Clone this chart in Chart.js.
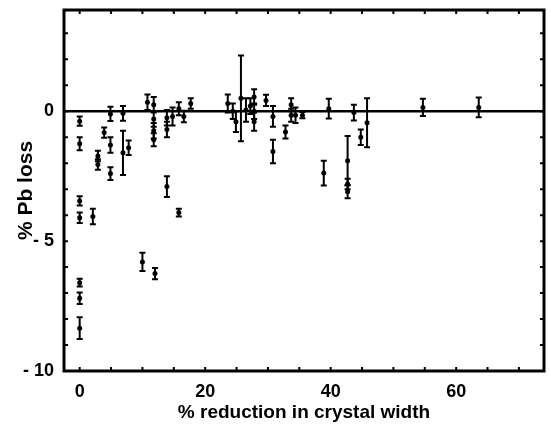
<!DOCTYPE html>
<html>
<head>
<meta charset="utf-8">
<script src="https://cdn.jsdelivr.net/npm/chart.js@4/dist/chart.umd.min.js"></script>
<style>
  html, body { margin: 0; padding: 0; background: #fff; }
  #wrap { width: 551px; height: 426px; }
</style>
</head>
<body>
<div id="wrap"><canvas id="c" width="551" height="426"></canvas></div>
<script>
// % reduction in crystal width
const xValues = [0, 0, 0, 0, 0, 0, 0, 2.1, 2.9, 2.9, 3.9, 4.9, 4.9, 4.9, 6.9, 6.9, 7.8,
    10.0, 10.8, 11.8, 11.8, 11.8, 11.8, 12.0, 13.9, 13.9, 13.9, 14.8, 15.8, 15.8, 16.6, 17.7,
    23.6, 24.4, 24.9, 25.7, 26.5, 27.2, 27.8, 27.8, 27.8, 29.7, 30.8, 30.8, 32.8, 33.7, 33.7,
    34.4, 35.5, 38.9, 39.7, 42.7, 42.7, 42.7, 43.7, 44.8, 45.8, 54.7, 63.6]
// % Pb loss
const yValues = [-0.38, -1.25, -3.45, -4.1, -6.6, -7.2, -8.35, -4.05, -1.72, -2.05, -0.82, -0.1, -1.3, -2.4, -0.08, -1.6, -1.4,
    -5.8, 0.35, 0.25, -0.3, -0.75, -1.1, -6.25, -0.25, -0.7, -2.9, -0.2, 0.1, -3.9, -0.2, 0.3,
    0.3, 0.0, -0.4, 0.5, 0.05, 0.2, 0.55, 0.0, -0.4, 0.42, -0.2, -1.55, -0.8, 0.25, -0.15,
    -0.15, -0.15, -2.38, 0.1, -1.9, -2.8, -3.1, -0.05, -1.0, -0.44, 0.15, 0.15]
// error (+/-)
const yErrors = [0.18, 0.25, 0.18, 0.2, 0.15, 0.22, 0.42, 0.3, 0.2, 0.2, 0.2, 0.27, 0.3, 0.25, 0.28, 0.85, 0.28,
    0.35, 0.3, 0.3, 0.3, 0.3, 0.25, 0.22, 0.3, 0.3, 0.4, 0.35, 0.25, 0.15, 0.22, 0.2,
    0.35, 0.3, 0.4, 1.65, 0.45, 0.3, 0.3, 0.3, 0.35, 0.22, 0.4, 0.45, 0.25, 0.25, 0.25,
    0.3, 0.12, 0.48, 0.38, 0.95, 0.2, 0.25, 0.3, 0.3, 0.94, 0.33, 0.38]

const xLabelTicks = [0, 20, 40, 60]
const yLabelTicks = [0, -5, -10]

const X_MIN = -2.5, X_MAX = 74
const Y_MIN = -10, Y_MAX = 3.9

const points = xValues.map((x, i) => ({ x: x, y: yValues[i], err: yErrors[i] }))

const FONT = 'Liberation Sans, Arial, Helvetica, sans-serif'

const errorBars = {
    id: 'errorBars',
    afterDatasetsDraw (chart) {
        const xs = chart.scales.x, ys = chart.scales.y
        const g = chart.ctx
        g.save()
        g.strokeStyle = '#000'
        g.lineWidth = 2
        points.forEach(p => {
            const px = xs.getPixelForValue(p.x)
            const top = ys.getPixelForValue(p.y + p.err)
            const bot = ys.getPixelForValue(p.y - p.err)
            g.beginPath()
            g.moveTo(px, top); g.lineTo(px, bot)
            g.moveTo(px - 3, top); g.lineTo(px + 3, top)
            g.moveTo(px - 3, bot); g.lineTo(px + 3, bot)
            g.stroke()
        })
        g.restore()
    }
}

const frame = {
    id: 'frame',
    afterDraw (chart) {
        const a = chart.chartArea
        const xs = chart.scales.x, ys = chart.scales.y
        const g = chart.ctx
        g.save()
        g.strokeStyle = '#000'
        g.lineWidth = 2
        // minor ticks pointing inward, all four sides
        g.beginPath()
        xs.ticks.forEach(t => {
            const px = xs.getPixelForValue(t.value)
            g.moveTo(px, a.bottom); g.lineTo(px, a.bottom - 4)
            g.moveTo(px, a.top); g.lineTo(px, a.top + 4)
        })
        ys.ticks.forEach(t => {
            if (t.value % 1 !== 0) return
            const py = ys.getPixelForValue(t.value)
            g.moveTo(a.left, py); g.lineTo(a.left + 4, py)
            g.moveTo(a.right, py); g.lineTo(a.right - 4, py)
        })
        g.stroke()
        g.lineWidth = 3
        g.strokeRect(a.left, a.top, a.right - a.left, a.bottom - a.top)
        g.restore()
    }
}

new Chart(document.getElementById('c'), {
    type: 'scatter',
    data: {
        datasets: [
            {
                type: 'line',
                data: [{ x: X_MIN, y: 0 }, { x: X_MAX, y: 0 }],
                borderColor: '#000',
                borderWidth: 2.5,
                pointRadius: 0,
                order: 2
            },
            {
                data: points,
                backgroundColor: '#000',
                borderColor: '#000',
                pointRadius: 2.5,
                pointBorderWidth: 0,
                order: 1
            }
        ]
    },
    options: {
        responsive: false,
        animation: false,
        events: [],
        layout: { padding: { left: 0, top: 10, right: 7, bottom: 0 } },
        plugins: { legend: false, tooltip: { enabled: false } },
        scales: {
            x: {
                type: 'linear',
                min: X_MIN,
                max: X_MAX,
                afterBuildTicks: s => {
                    const t = []
                    for (let v = 0; v <= 70; v += 5) t.push({ value: v })
                    s.ticks = t
                },
                ticks: {
                    autoSkip: false,
                    maxRotation: 0,
                    padding: 10,
                    color: '#000',
                    font: { family: FONT, size: 18, weight: 'bold' },
                    callback: v => xLabelTicks.includes(v) ? String(v) : ''
                },
                grid: { display: false, drawTicks: false },
                border: { display: false },
                title: {
                    display: true,
                    text: '% reduction in crystal width',
                    color: '#000',
                    font: { family: FONT, size: 19, weight: 'bold' },
                    padding: { top: 0, bottom: 2 }
                },
                afterFit: s => { s.height = 55; s.paddingLeft = 0; s.paddingRight = 0 }
            },
            y: {
                type: 'linear',
                min: Y_MIN,
                max: Y_MAX,
                ticks: {
                    stepSize: 1,
                    autoSkip: false,
                    padding: 10,
                    color: '#000',
                    font: { family: FONT, size: 18, weight: 'bold' },
                    callback: v => yLabelTicks.includes(v) ? (v < 0 ? '- ' + (-v) : String(v)) : ''
                },
                grid: { display: false, drawTicks: false },
                border: { display: false },
                title: {
                    display: true,
                    text: '% Pb loss',
                    color: '#000',
                    font: { family: FONT, size: 21, weight: 'bold' },
                    padding: { top: 14, bottom: 0 }
                },
                afterFit: s => { s.width = 64; s.paddingTop = 0; s.paddingBottom = 0 }
            }
        }
    },
    plugins: [errorBars, frame]
})
</script>
</body>
</html>
